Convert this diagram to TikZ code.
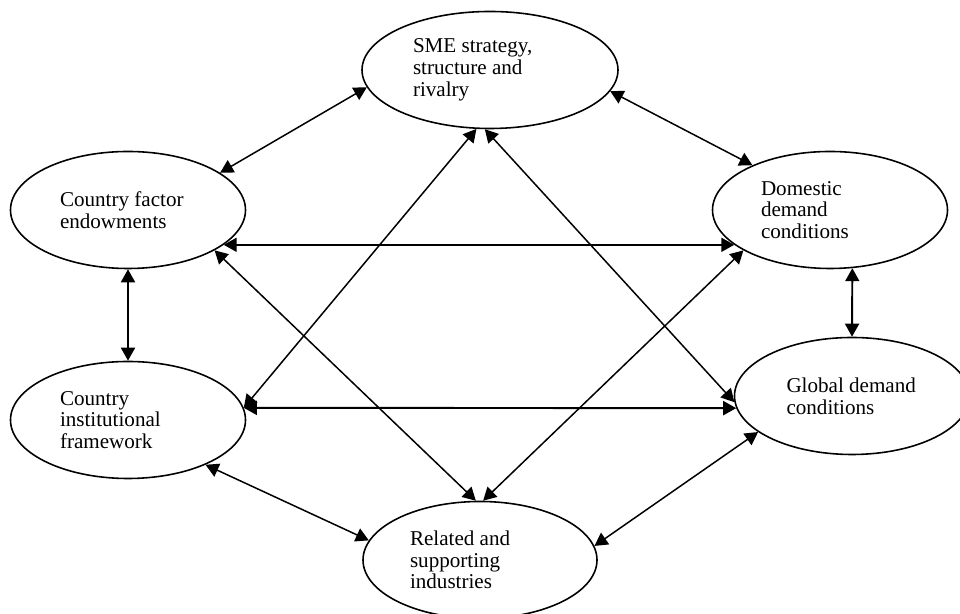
\documentclass[tikz,border=0pt]{standalone}
\usepackage{fontspec}
\setmainfont{Liberation Serif}
\usetikzlibrary{arrows.meta,shapes.geometric}
\tikzset{
  >={Triangle[length=2.6mm,width=2.8mm]},
  ell/.style ={ellipse,draw,line width=0.9pt,minimum width=4.7cm,
               minimum height=2.34cm,inner sep=0pt,align=flush left,
               font=\fontsize{12}{12.4}\selectfont},
  bi/.style  ={<->,line width=0.85pt},
  bik/.style ={<->,line width=1.1pt},
}

\begin{document}
\begin{tikzpicture}
\useasboundingbox (0,0) rectangle (19.2,12.28);
% the six factors
\node[ell,minimum width=5.12cm,text width=3.08cm] (sme) at (9.8,10.88) {SME strategy,\\ structure and\\ rivalry};
\node[ell,text width=2.72cm] (fac) at (2.56,8.08) {Country factor\\ endowments};
\node[ell,text width=2.76cm] (dom) at (16.6,8.08) {Domestic\\ demand\\ conditions};
\node[ell,text width=2.72cm] (ins) at (2.56,3.88) {Country\\ institutional\\ framework};
\node[ell,text width=2.62cm] (glo) at (17.04,4.36) {Global demand\\ conditions};
\node[ell,minimum width=4.68cm,text width=2.8cm] (rel) at (9.6,1.08) {Related and\\ supporting\\ industries};
% links
\draw[bi] (sme.188) -- (fac.22);
\draw[bi] (sme.350) -- (dom.150);
\draw[bi] (sme.257) -- (ins.6);
\draw[bi] (sme.265) -- (glo.183);
\draw[bik] (fac.340) -- (dom.200);
\draw[bi] (fac.335) -- (rel.94);
\draw[bik] (ins.6) -- (glo.186);
\draw[bi] (dom.205) -- (rel.87);
\draw[bik] (fac.south) -- (ins.north);
\draw[bik] (dom.291) -- (glo.north);
\draw[bi] (ins.330) -- (rel.170);
\draw[bi] (glo.201) -- (rel.7);
\end{tikzpicture}
\end{document}
